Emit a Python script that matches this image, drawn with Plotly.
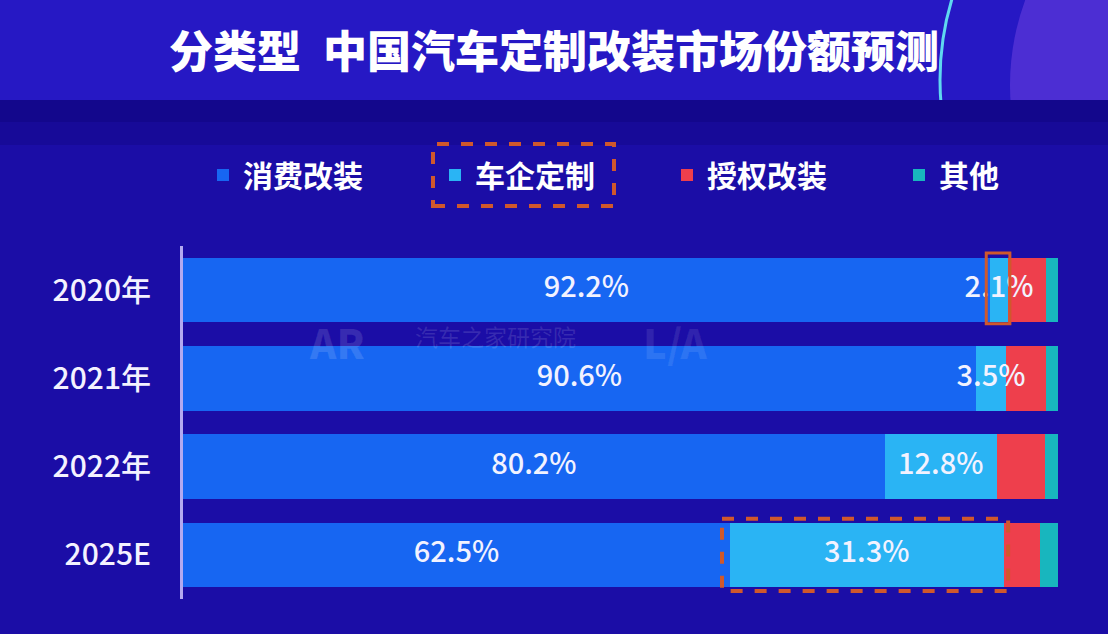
import plotly.graph_objects as go

# ---- data ----
years = ["2020年", "2021年", "2022年", "2025E"]
series_names = ["消费改装", "车企定制", "授权改装", "其他"]
consumer = [92.2, 90.6, 80.2, 62.5]
oem = [2.1, 3.5, 12.8, 31.3]
licensed = [4.3, 4.5, 5.5, 4.1]
other = [1.4, 1.4, 1.5, 2.1]
colors = ["#1766f2", "#2ab4f4", "#ee3f4c", "#18b6be"]
labelled = [True, True, False, False]

W, H = 1108, 634
ML, MR, MT, MB = 183, 0, 246, 35
PW, PH = W - ML - MR, H - MT - MB
BAR_END = 1058  # pixel where 100% lies
XMAX = 100 * PW / (BAR_END - ML)


def pxx(X):
    return (X - ML) / PW


def pyy(Y):
    return (H - MB - Y) / PH


FONT = "Noto Sans CJK SC"
values = [consumer, oem, licensed, other]

fig = go.Figure()
for name, vals, col in zip(series_names, values, colors):
    fig.add_trace(go.Bar(
        y=years, x=vals, name=name, orientation="h",
        marker=dict(color=col, line=dict(width=0)),
        hoverinfo="x+name",
    ))

# value labels centred on segments (first two series)
bases = [0.0] * len(years)
for vals, show in zip(values, labelled):
    if show:
        fig.add_trace(go.Scatter(
            x=[b + v / 2 for b, v in zip(bases, vals)], y=years,
            mode="text", text=[f"{v:.1f}%" for v in vals],
            textfont=dict(family=FONT, size=29, color="#f2f2ff", weight=500),
            showlegend=False, hoverinfo="skip", cliponaxis=False,
        ))
    bases = [b + v for b, v in zip(bases, vals)]

shapes = []
# background
shapes.append(dict(type="rect", xref="paper", yref="paper",
                   x0=pxx(0), x1=pxx(W), y0=pyy(100), y1=pyy(0),
                   fillcolor="#2618c4", line=dict(width=0), layer="below"))
shapes.append(dict(type="circle", xref="paper", yref="paper",
                   x0=pxx(1010), x1=pxx(1500), y0=pyy(330), y1=pyy(-160),
                   fillcolor="rgba(150,90,240,0.35)", line=dict(width=0), layer="below"))
shapes.append(dict(type="circle", xref="paper", yref="paper",
                   x0=pxx(940), x1=pxx(1500), y0=pyy(360), y1=pyy(-200),
                   fillcolor="rgba(0,0,0,0)", line=dict(width=3, color="#5fd8f0"), layer="below"))
shapes.append(dict(type="rect", xref="paper", yref="paper",
                   x0=pxx(0), x1=pxx(W), y0=pyy(H), y1=pyy(100),
                   fillcolor="#1b0da6", line=dict(width=0), layer="below"))
shapes.append(dict(type="rect", xref="paper", yref="paper",
                   x0=pxx(0), x1=pxx(W), y0=pyy(122), y1=pyy(100),
                   fillcolor="#13078c", line=dict(width=0), layer="below"))
shapes.append(dict(type="rect", xref="paper", yref="paper",
                   x0=pxx(0), x1=pxx(W), y0=pyy(145), y1=pyy(122),
                   fillcolor="#170a98", line=dict(width=0), layer="below"))

# dashed highlight around legend item
shapes.append(dict(type="rect", xref="paper", yref="paper",
                   x0=pxx(433), x1=pxx(614), y0=pyy(206), y1=pyy(144),
                   line=dict(color="#d0582c", width=4, dash="dash")))
# dashed highlight around 2025E OEM segment
i25 = 3
b25 = consumer[i25]
shapes.append(dict(type="rect", xref="x", yref="y",
                   x0=b25 - 0.9, x1=b25 + oem[i25] + 0.5,
                   y0=i25 - 0.41, y1=i25 + 0.41,
                   line=dict(color="#d0582c", width=4, dash="dash")))
# small box around 2020 OEM segment
shapes.append(dict(type="rect", xref="x", yref="y",
                   x0=consumer[0] - 0.4, x1=consumer[0] + oem[0] + 0.2,
                   y0=-0.42, y1=0.38,
                   line=dict(color="#d0582c", width=3)))

annotations = [
    dict(text="分类型\u2002中国汽车定制改装市场份额预测", xref="paper", yref="paper",
         x=pxx(554), y=pyy(49), xanchor="center", yanchor="middle", showarrow=False,
         font=dict(family=FONT, size=44, color="#ffffff", weight=900)),
    dict(text="AR", xref="paper", yref="paper", x=pxx(337), y=pyy(342),
         xanchor="center", yanchor="middle", showarrow=False,
         font=dict(family=FONT, size=40, color="rgba(255,255,255,0.12)", weight=900)),
    dict(text="汽车之家研究院", xref="paper", yref="paper", x=pxx(495), y=pyy(336),
         xanchor="center", yanchor="middle", showarrow=False,
         font=dict(family=FONT, size=23, color="rgba(255,255,255,0.12)")),
    dict(text="L/A", xref="paper", yref="paper", x=pxx(675), y=pyy(342),
         xanchor="center", yanchor="middle", showarrow=False,
         font=dict(family=FONT, size=40, color="rgba(255,255,255,0.09)", weight=900)),
]

fig.update_layout(
    width=W, height=H,
    margin=dict(l=ML, r=MR, t=MT, b=MB, pad=0, autoexpand=False),
    barmode="stack", bargap=0.27,
    paper_bgcolor="#1b0da6", plot_bgcolor="rgba(0,0,0,0)",
    font=dict(family=FONT, color="#ffffff"),
    showlegend=True,
    legend=dict(orientation="h", x=pxx(203), xanchor="left", y=pyy(175), yanchor="middle",
                font=dict(family=FONT, size=30, color="#ffffff", weight=700),
                entrywidth=187, entrywidthmode="pixels", itemclick=False,
                bgcolor="rgba(0,0,0,0)", traceorder="normal"),
    xaxis=dict(range=[0, XMAX], visible=False, fixedrange=True),
    yaxis=dict(categoryorder="array", categoryarray=years, autorange="reversed",
               showline=True, linecolor="#b4a9f0", linewidth=3, showgrid=False,
               zeroline=False, ticks="", ticklabelstandoff=23,
               tickfont=dict(family=FONT, size=30, color="#f4f2ff", weight=500),
               fixedrange=True),
    shapes=shapes, annotations=annotations,
)

fig.write_html("out.html", config={"displayModeBar": False},
               post_script="document.body.style.margin='0';document.body.style.overflow='hidden';")
